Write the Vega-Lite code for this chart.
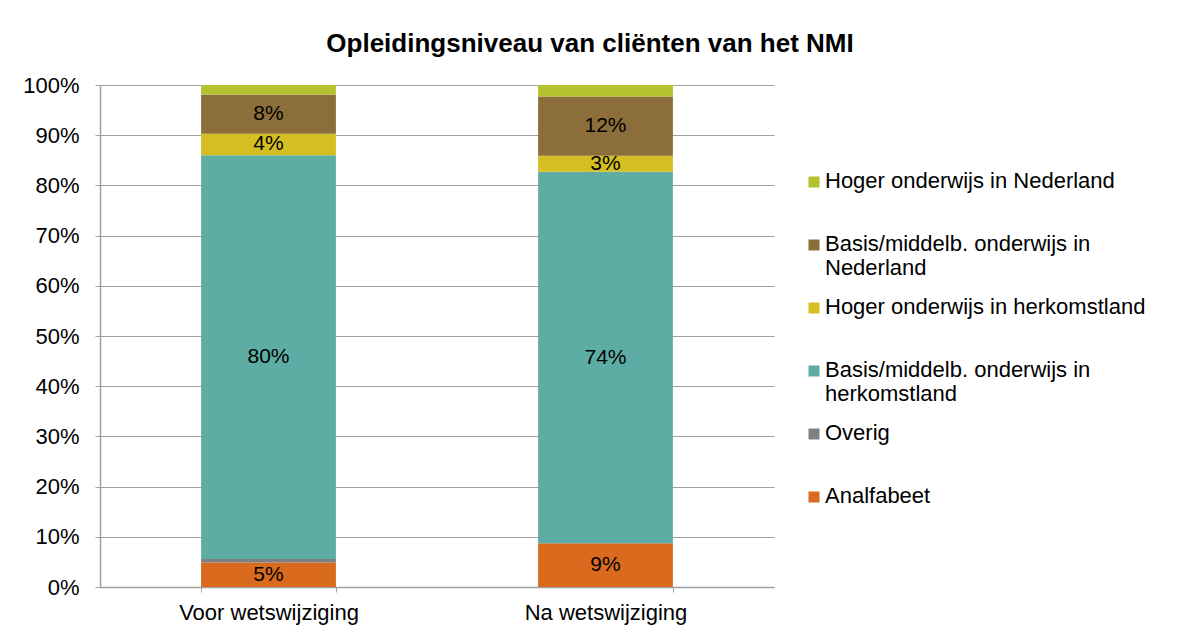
{
  "$schema": "https://vega.github.io/schema/vega-lite/v6.json",
  "width": 674,
  "height": 502,
  "autosize": {"type": "none"},
  "padding": {"left": 100, "top": 85, "right": 403, "bottom": 48},
  "background": "white",
  "title": {
    "text": "Opleidingsniveau van cliënten van het NMI",
    "font": "Liberation Sans",
    "fontSize": 26,
    "fontWeight": "bold",
    "color": "#000000",
    "anchor": "middle",
    "dx": 153,
    "offset": 17
  },
  "config": {
    "font": "Liberation Sans",
    "view": {"stroke": null},
    "axis": {
      "labelFont": "Liberation Sans",
      "labelFontSize": 22,
      "labelColor": "#000000",
      "domainColor": "#a0a0a0",
      "tickColor": "#a0a0a0",
      "gridColor": "#a0a0a0",
      "title": null
    }
  },
  "data": {
    "values": [
      {"periode": "Voor wetswijziging", "categorie": "Analfabeet", "ord": 1, "waarde": 0.049},
      {"periode": "Voor wetswijziging", "categorie": "Overig", "ord": 2, "waarde": 0.007},
      {"periode": "Voor wetswijziging", "categorie": "Basis/middelb. onderwijs in herkomstland", "ord": 3, "waarde": 0.804},
      {"periode": "Voor wetswijziging", "categorie": "Hoger onderwijs in herkomstland", "ord": 4, "waarde": 0.043},
      {"periode": "Voor wetswijziging", "categorie": "Basis/middelb. onderwijs in Nederland", "ord": 5, "waarde": 0.078},
      {"periode": "Voor wetswijziging", "categorie": "Hoger onderwijs in Nederland", "ord": 6, "waarde": 0.019},
      {"periode": "Na wetswijziging", "categorie": "Analfabeet", "ord": 1, "waarde": 0.087},
      {"periode": "Na wetswijziging", "categorie": "Overig", "ord": 2, "waarde": 0.0},
      {"periode": "Na wetswijziging", "categorie": "Basis/middelb. onderwijs in herkomstland", "ord": 3, "waarde": 0.740},
      {"periode": "Na wetswijziging", "categorie": "Hoger onderwijs in herkomstland", "ord": 4, "waarde": 0.032},
      {"periode": "Na wetswijziging", "categorie": "Basis/middelb. onderwijs in Nederland", "ord": 5, "waarde": 0.118},
      {"periode": "Na wetswijziging", "categorie": "Hoger onderwijs in Nederland", "ord": 6, "waarde": 0.023}
    ]
  },
  "transform": [
    {"stack": "waarde", "groupby": ["periode"], "sort": [{"field": "ord", "order": "ascending"}], "as": ["y0", "y1"]}
  ],
  "encoding": {
    "x": {
      "field": "periode",
      "type": "nominal",
      "sort": ["Voor wetswijziging", "Na wetswijziging"],
      "scale": {"paddingInner": 0.6, "paddingOuter": 0.3},
      "axis": {"labelAngle": 0, "tickBand": "extent", "tickSize": 5, "labelPadding": 10, "domainWidth": 1.5}
    }
  },
  "layer": [
    {
      "mark": {"type": "bar"},
      "encoding": {
        "y": {
          "field": "y0",
          "type": "quantitative",
          "scale": {"domain": [0, 1]},
          "axis": {"values": [0, 0.1, 0.2, 0.3, 0.4, 0.5, 0.6, 0.7, 0.8, 0.9, 1], "format": "%", "tickSize": 5, "labelPadding": 16, "grid": true, "domainWidth": 1.5}
        },
        "y2": {"field": "y1"},
        "color": {
          "field": "categorie",
          "type": "nominal",
          "scale": {
            "domain": ["Hoger onderwijs in Nederland", "Basis/middelb. onderwijs in Nederland", "Hoger onderwijs in herkomstland", "Basis/middelb. onderwijs in herkomstland", "Overig", "Analfabeet"],
            "range": ["#b5c22f", "#8b6e3a", "#d4be22", "#5eada5", "#808080", "#d96a1e"]
          },
          "legend": {
            "title": null,
            "orient": "none",
            "legendX": 703,
            "legendY": 75,
            "symbolType": "M -1 1 H 1 V 3 H -1 Z",
            "symbolSize": 121,
            "symbolStrokeWidth": 0,
            "labelFont": "Liberation Sans",
            "labelFontSize": 22,
            "labelColor": "#000000",
            "labelBaseline": "top",
            "labelOffset": 0,
            "labelLimit": 450,
            "rowPadding": 7,
            "labelExpr": "datum.label == 'Basis/middelb. onderwijs in Nederland' ? ['Basis/middelb. onderwijs in', 'Nederland'] : datum.label == 'Basis/middelb. onderwijs in herkomstland' ? ['Basis/middelb. onderwijs in', 'herkomstland'] : [datum.label, ' ']"
          }
        }
      }
    },
    {
      "transform": [
        {"filter": "datum.waarde >= 0.03"},
        {"fold": ["y0", "y1"], "as": ["rand", "pos"]},
        {"aggregate": [{"op": "mean", "field": "pos", "as": "midden"}], "groupby": ["periode", "categorie", "waarde"]}
      ],
      "mark": {"type": "text", "font": "Liberation Sans", "fontSize": 21, "color": "#000000", "baseline": "middle"},
      "encoding": {
        "y": {"field": "midden", "type": "quantitative"},
        "text": {"field": "waarde", "type": "quantitative", "format": ".0%"}
      }
    }
  ]
}
